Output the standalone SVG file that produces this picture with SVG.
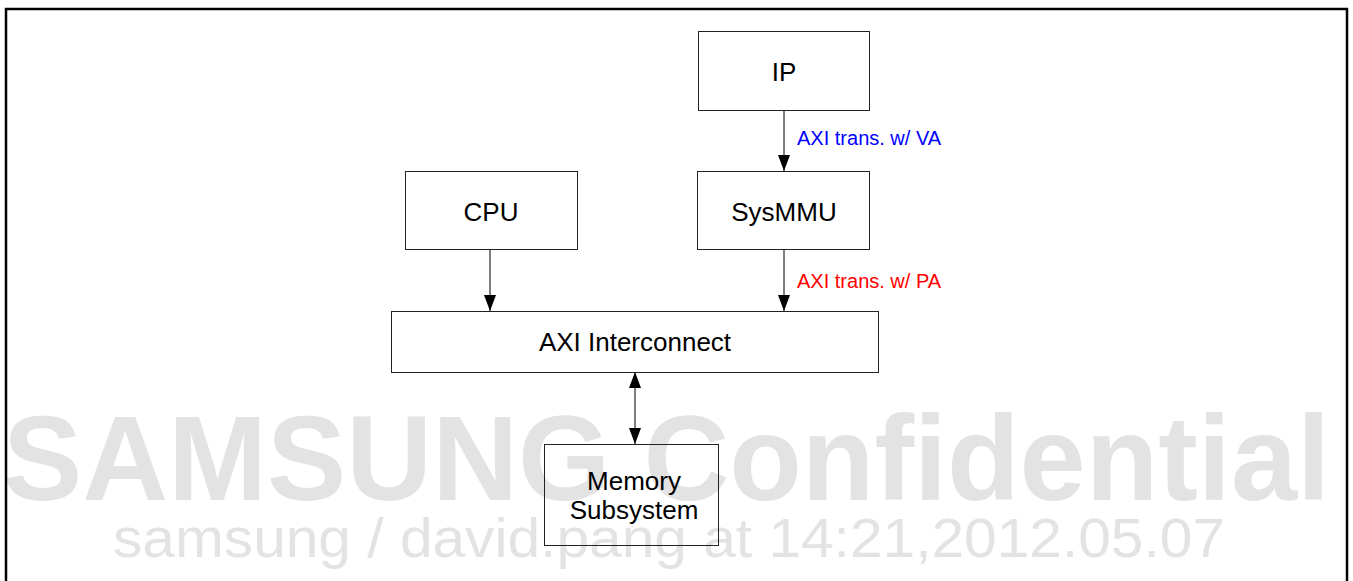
<svg xmlns="http://www.w3.org/2000/svg" width="1353" height="581" viewBox="0 0 1353 581">
<style>
.box{fill:none;stroke:#222;stroke-width:1}
.lbl{font-family:"Liberation Sans",Arial,sans-serif;font-size:26px;fill:#000;text-anchor:middle}
.edge{stroke:#000;stroke-width:1;fill:none}
.elbl{font-family:"Liberation Sans",Arial,sans-serif;font-size:20px}
.wm{font-family:"Liberation Sans",Arial,sans-serif;fill:#e3e3e3}
</style>
<defs>
<marker id="ad" viewBox="0 0 16 12" refX="16" refY="6" markerWidth="16" markerHeight="12" markerUnits="userSpaceOnUse" orient="auto-start-reverse">
<path d="M0,0 L16,6 L0,12 Z" fill="#000"/>
</marker>
</defs>
<rect x="0" y="0" width="1353" height="581" fill="#fff"/>
<g id="watermark">
<text class="wm" x="3" y="500" font-size="121" font-weight="bold" textLength="1327" lengthAdjust="spacingAndGlyphs">SAMSUNG Confidential</text>
<text class="wm" x="113" y="557" font-size="56" textLength="1112" lengthAdjust="spacingAndGlyphs">samsung / david.pang at 14:21,2012.05.07</text>
</g>
<path d="M6,581 L6,9 L1347,9 L1347,581" fill="none" stroke="#000" stroke-width="2.5"/>
<g id="connectors">
<line class="edge" x1="784" y1="110" x2="784" y2="171" marker-end="url(#ad)"/>
<line class="edge" x1="490" y1="249" x2="490" y2="311" marker-end="url(#ad)"/>
<line class="edge" x1="784" y1="249" x2="784" y2="311" marker-end="url(#ad)"/>
<line class="edge" x1="635" y1="372" x2="635" y2="444" stroke="#555" marker-start="url(#ad)" marker-end="url(#ad)"/>
<text class="elbl" x="797" y="145" fill="#0000ff">AXI trans. w/ VA</text>
<text class="elbl" x="797" y="288" fill="#ff0000">AXI trans. w/ PA</text>
</g>
<g id="ip">
<rect class="box" x="698.5" y="31.5" width="171" height="79"/>
<text class="lbl" x="784" y="81">IP</text>
</g>
<g id="cpu">
<rect class="box" x="405.5" y="171.5" width="172" height="78"/>
<text class="lbl" x="491" y="221">CPU</text>
</g>
<g id="sysmmu">
<rect class="box" x="697.5" y="171.5" width="172" height="78"/>
<text class="lbl" x="784" y="221">SysMMU</text>
</g>
<g id="axi">
<rect class="box" x="391.5" y="311.5" width="487" height="61"/>
<text class="lbl" x="635" y="351">AXI Interconnect</text>
</g>
<g id="memory">
<rect class="box" x="544.5" y="444.5" width="174" height="101"/>
<text class="lbl" x="634" y="490" font-size="23">Memory</text>
<text class="lbl" x="634" y="519" font-size="23">Subsystem</text>
</g>
</svg>
